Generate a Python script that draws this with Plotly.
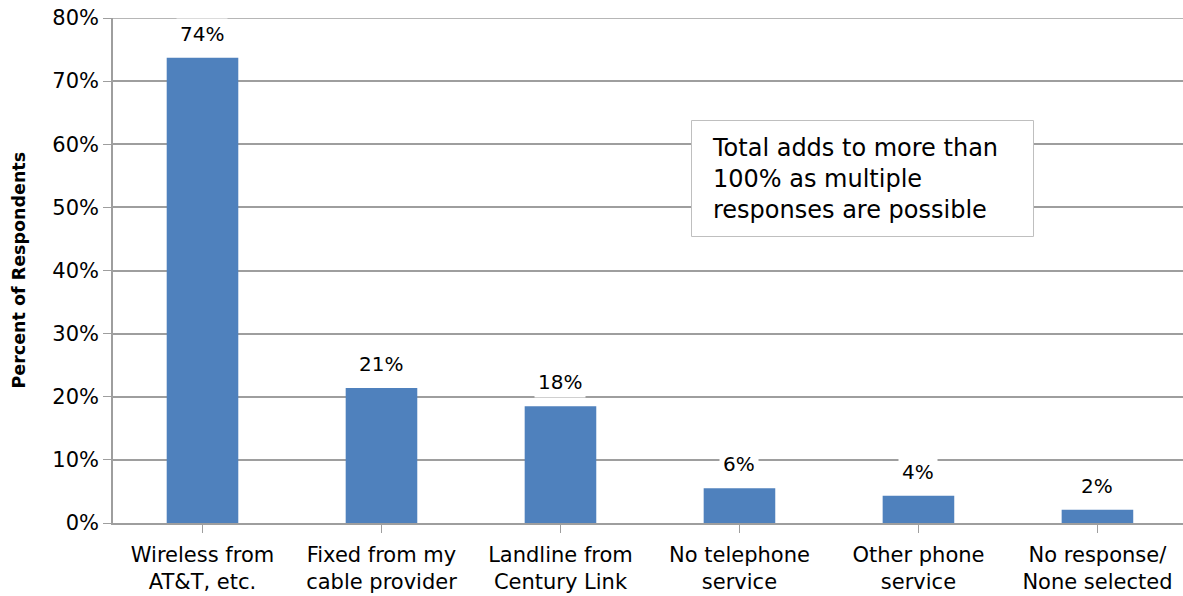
import plotly.graph_objects as go

categories = ["Wireless from<br>AT&T, etc.", "Fixed from my<br>cable provider", "Landline from<br>Century Link",
              "No telephone<br>service", "Other phone<br>service", "No response/<br>None selected"]
values = [73.7, 21.4, 18.5, 5.5, 4.3, 2.1]
labels = ["74%", "21%", "18%", "6%", "4%", "2%"]

FONT = "DejaVu Sans, sans-serif"
GRID = "#9E9E9E"

W, H = 1183, 596
L, T, B, R = 113, 18, 73, 0
PW, PH = W - L - R, H - T - B


def px(x):
    return (x - L) / PW


def py(y):
    return (H - B - y) / PH


fig = go.Figure()
fig.add_trace(go.Bar(x=list(range(len(categories))), y=values, width=0.40,
                     marker=dict(color="#4F81BD", line=dict(width=0)), hoverinfo="skip"))

# top gridline at the range edge
fig.add_shape(type="line", xref="paper", yref="y", x0=0, x1=1, y0=80, y1=80,
              line=dict(color=GRID, width=1.5), layer="below")

for i, (v, t) in enumerate(zip(values, labels)):
    fig.add_annotation(x=i, y=v, text=t, showarrow=False, yanchor="bottom", yshift=8,
                       bgcolor="white", borderpad=3, font=dict(family=FONT, size=20, color="black"))

fig.add_shape(type="rect", xref="paper", yref="paper", x0=px(691.5), x1=px(1033.5), y0=py(236.5), y1=py(120.5),
              fillcolor="white", line=dict(color="#BFBFBF", width=1), layer="above")
fig.add_annotation(xref="paper", yref="paper", x=px(710), y=py(132),
                   xanchor="left", yanchor="top", align="left", showarrow=False,
                   text="Total adds to more than<br>100% as multiple<br>responses are possible",
                   font=dict(family=FONT, size=24, color="black"))

fig.add_annotation(xref="paper", yref="paper", x=px(18), y=0.5, xanchor="center", yanchor="middle",
                   textangle=-90, showarrow=False, text="<b>Percent of Respondents</b>",
                   font=dict(family=FONT, size=17.5, color="black"))

fig.update_layout(
    width=W, height=H, margin=dict(l=L, r=R, t=T, b=B),
    paper_bgcolor="white", plot_bgcolor="white", showlegend=False,
    font=dict(family=FONT, color="black"),
    xaxis=dict(range=[-0.5, 5.478], tickmode="array", tickvals=list(range(len(categories))),
               ticktext=categories, showgrid=False, showline=True, linecolor=GRID, linewidth=1.5,
               ticks="outside", ticklen=8, tickcolor=GRID, tickson="boundaries", ticklabelstandoff=4,
               tickfont=dict(size=21, family=FONT), zeroline=False, type="linear"),
    yaxis=dict(range=[0, 80], dtick=10, ticksuffix="%", showgrid=True, gridcolor=GRID, gridwidth=1.5,
               showline=True, linecolor=GRID, linewidth=1.5, ticks="outside", ticklen=8, tickcolor=GRID,
               ticklabeloverflow="allow",
               tickfont=dict(size=21, family=FONT), zeroline=False),
)

fig.write_html("out.html", config={"displayModeBar": False},
               post_script="document.body.style.margin='0';")
